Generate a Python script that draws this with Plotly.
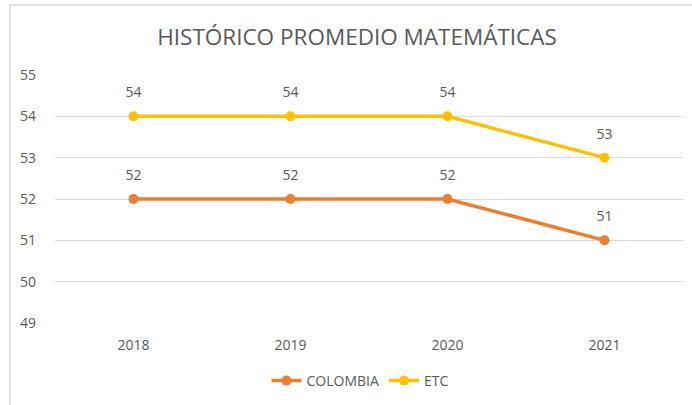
import plotly.graph_objects as go

years = ["2018", "2019", "2020", "2021"]
colombia = [52, 52, 52, 51]
etc = [54, 54, 54, 53]

W, H = 692, 405
L, R, T, B = 55, 9, 75, 82
pw, ph = W - L - R, H - T - B

def px(x):
    return (x - L) / pw

def py(y):
    return (H - B - y) / ph

font = "Open Sans"
grey = "#595959"

fig = go.Figure()
series = [("COLOMBIA", colombia, "#ED7D31"), ("ETC", etc, "#FFC000")]
for name, vals, col in series:
    fig.add_trace(go.Scatter(
        x=years, y=vals, name=name, mode="lines+markers",
        line=dict(color=col, width=3.5), marker=dict(size=10, color=col),
        cliponaxis=False))
for name, vals, col in series:
    fig.add_trace(go.Scatter(
        x=years, y=vals, mode="markers+text", showlegend=False, hoverinfo="skip",
        marker=dict(size=23, color="rgba(0,0,0,0)"),
        text=[str(v) for v in vals], textposition="top center",
        textfont=dict(family=font, size=14, color=grey), cliponaxis=False))

fig.update_layout(
    width=W, height=H,
    margin=dict(l=L, r=R, t=T, b=B, autoexpand=False),
    paper_bgcolor="white", plot_bgcolor="white",
    font=dict(family=font, color=grey, size=14),
    title=dict(text="HISTÓRICO PROMEDIO MATEMÁTICAS", x=357 / W, xanchor="center",
               y=1 - 37 / H, yanchor="middle",
               font=dict(family=font, size=22.5, color=grey)),
    xaxis=dict(type="category", range=[-0.5, 3.5], showgrid=False, zeroline=False,
               showline=False, ticks="", automargin=False, ticklabelstandoff=12,
               tickfont=dict(size=14, color=grey)),
    yaxis=dict(range=[49, 55], dtick=1, showgrid=True, gridcolor="#d9d9d9", gridwidth=1.2,
               zeroline=False, showline=False, ticks="", ticklabelstandoff=18, automargin=False,
               tickfont=dict(size=14, color=grey)),
    legend=dict(orientation="h", x=px(360), xanchor="center", yref="container",
                y=1 - 381 / H, yanchor="middle",
                font=dict(size=14, color=grey), tracegroupgap=0),
    showlegend=True,
    shapes=[dict(type="rect", xref="paper", yref="paper",
                 x0=px(10), x1=px(720), y0=py(430), y1=py(5),
                 line=dict(color="#d9d9d9", width=1.5), fillcolor="rgba(0,0,0,0)", layer="below")],
)

fig.write_html("out.html", config={"displayModeBar": False},
               post_script="document.body.style.margin='0';document.body.style.overflow='hidden';")
